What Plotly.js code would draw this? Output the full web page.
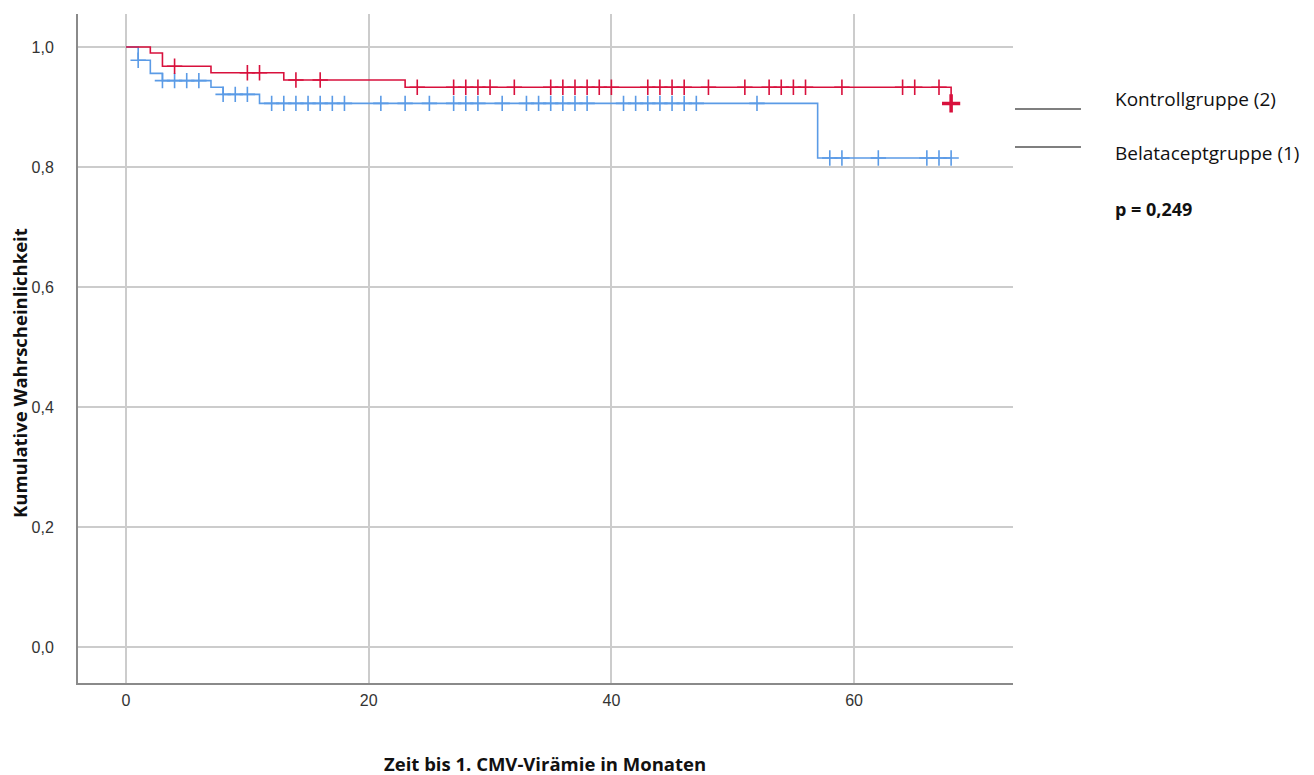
<!DOCTYPE html>
<html>
<head>
<meta charset="utf-8">
<script src="https://cdn.plot.ly/plotly-3.0.1.min.js"></script>
<style>
html,body{margin:0;padding:0;background:#fff;}
#chart{width:1314px;height:775px;}
</style>
</head>
<body>
<div id="chart"></div>
<script>
// Kontrollgruppe (2) — Kaplan-Meier steps
const kontrollTimes = [0, 2, 3, 7, 13, 23, 68];
const kontrollSurv  = [1.000, 0.990, 0.968, 0.957, 0.945, 0.933, 0.906];
const kontrollCensored = [4, 10, 11, 14, 16, 24, 27, 28, 29, 30, 32, 35, 36, 37, 38, 39, 40,
  43, 44, 45, 46, 48, 51, 53, 54, 55, 56, 59, 64, 65, 67];
const kontrollLastCensored = [68];

// Belataceptgruppe (1)
const belaTimes = [0, 1, 2, 3, 7, 8, 11, 57, 68];
const belaSurv  = [1.000, 0.978, 0.956, 0.944, 0.933, 0.921, 0.906, 0.815, 0.815];
const belaCensored = [1, 3, 4, 5, 6, 8, 9, 10, 12, 13, 14, 15, 16, 17, 18, 21, 23, 25, 27, 28,
  29, 31, 33, 34, 35, 36, 37, 38, 41, 42, 43, 44, 45, 46, 47, 52, 58, 59, 62, 66, 67, 68];

const xTicks = [0, 20, 40, 60];
const yTicks = [0, 0.2, 0.4, 0.6, 0.8, 1.0];
const yTickLabels = ["0,0", "0,2", "0,4", "0,6", "0,8", "1,0"];

const legendLabels = ["Kontrollgruppe (2)", "Belataceptgruppe (1)"];
const pText = "p = 0,249";
const xTitle = "Zeit bis 1. CMV-Virämie in Monaten";
const yTitle = "Kumulative Wahrscheinlichkeit";

const RED = "#d8103c";
const BLUE = "#5b9be6";

function stepAt(times, surv, t) {
  let v = surv[0];
  for (let i = 0; i < times.length; i++) { if (times[i] <= t) v = surv[i]; }
  return v;
}

const traces = [
  {x: belaTimes, y: belaSurv, mode: "lines", line: {shape: "hv", color: BLUE, width: 1.6}, hoverinfo: "skip"},
  {x: kontrollTimes, y: kontrollSurv, mode: "lines", line: {shape: "hv", color: RED, width: 1.6}, hoverinfo: "skip"},
  {x: belaCensored, y: belaCensored.map(t => stepAt(belaTimes, belaSurv, t)), mode: "markers",
   marker: {symbol: "cross-thin", size: 11, line: {color: BLUE, width: 1.6}}, hoverinfo: "skip"},
  {x: kontrollCensored, y: kontrollCensored.map(t => stepAt(kontrollTimes, kontrollSurv, t)), mode: "markers",
   marker: {symbol: "cross-thin", size: 11, line: {color: RED, width: 1.6}}, hoverinfo: "skip"},
  {x: kontrollLastCensored, y: kontrollLastCensored.map(t => stepAt(kontrollTimes, kontrollSurv, t)), mode: "markers",
   marker: {symbol: "cross-thin", size: 13, line: {color: RED, width: 3.5}}, hoverinfo: "skip"}
];

const textFont = "Open Sans, Noto Sans, sans-serif";

const layout = {
  width: 1314, height: 775,
  margin: {l: 78, r: 301, t: 14, b: 92},
  paper_bgcolor: "#ffffff", plot_bgcolor: "#ffffff",
  showlegend: false,
  xaxis: {
    range: [-3.96, 73.1], tickvals: xTicks, ticktext: xTicks.map(String),
    showgrid: true, gridcolor: "#cccccc", gridwidth: 2, zeroline: false,
    showline: true, linecolor: "#8a8a8a", linewidth: 2, ticks: "",
    ticklabelstandoff: 2,
    tickfont: {family: "Liberation Sans, Arial, sans-serif", size: 16, color: "#333"}
  },
  yaxis: {
    range: [-0.06, 1.055], tickvals: yTicks, ticktext: yTickLabels,
    showgrid: true, gridcolor: "#cccccc", gridwidth: 2, zeroline: false,
    showline: true, linecolor: "#8a8a8a", linewidth: 2, ticks: "",
    ticklabelstandoff: 19,
    tickfont: {family: "Liberation Sans, Arial, sans-serif", size: 16, color: "#333"}
  },
  shapes: [
    {type: "line", xref: "paper", yref: "paper", x0: 1.0021, x1: 1.0727, y0: (683-109)/669, y1: (683-109)/669,
     line: {color: "#000", width: 1.2}},
    {type: "line", xref: "paper", yref: "paper", x0: 1.0021, x1: 1.0727, y0: (683-147)/669, y1: (683-147)/669,
     line: {color: "#000", width: 1.2}}
  ],
  annotations: [
    {xref: "paper", yref: "paper", x: (1113-78)/935, y: (683-99)/669, xanchor: "left", yanchor: "middle",
     text: legendLabels[0], showarrow: false, font: {family: textFont, size: 19, color: "#111"}},
    {xref: "paper", yref: "paper", x: (1113-78)/935, y: (683-153)/669, xanchor: "left", yanchor: "middle",
     text: legendLabels[1], showarrow: false, font: {family: textFont, size: 19, color: "#111"}},
    {xref: "paper", yref: "paper", x: (1113-78)/935, y: (683-209)/669, xanchor: "left", yanchor: "middle",
     text: "<b>" + pText + "</b>", showarrow: false, font: {family: textFont, size: 18, color: "#111"}},
    {xref: "paper", yref: "paper", x: (545-78)/935, y: (683-763)/669, xanchor: "center", yanchor: "middle",
     text: "<b>" + xTitle + "</b>", showarrow: false, font: {family: textFont, size: 18.5, color: "#111"}},
    {xref: "paper", yref: "paper", x: (20-78)/935, y: (683-373)/669, xanchor: "center", yanchor: "middle",
     text: "<b>" + yTitle + "</b>", showarrow: false, textangle: -90, font: {family: textFont, size: 18.5, color: "#111"}}
  ]
};

Plotly.newPlot("chart", traces, layout, {displayModeBar: false, staticPlot: true});
</script>
</body>
</html>
